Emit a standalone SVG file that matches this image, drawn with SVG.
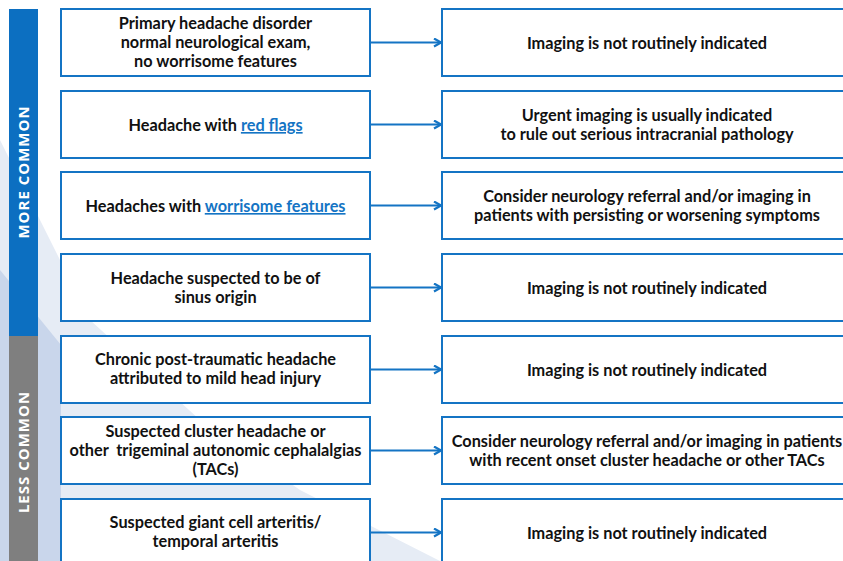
<svg xmlns="http://www.w3.org/2000/svg" width="843" height="561" viewBox="0 0 843 561">
<defs>
<style>
.box{fill:#ffffff;stroke:#1474c4;stroke-width:2}
.t{font-family:Lato,"Liberation Sans",sans-serif;font-weight:bold;font-size:16.3px;fill:#111111;text-anchor:middle}
.lnk{fill:#1474c4;text-decoration:underline}
.side{font-family:"Open Sans","Liberation Sans",sans-serif;font-weight:bold;font-size:15px;fill:#ffffff;text-anchor:middle;letter-spacing:1px}
.conn{stroke:#1474c4;stroke-width:2.2;fill:none}
</style>
<marker id="arr" viewBox="0 0 10 10" refX="9" refY="5" markerWidth="10" markerHeight="10" markerUnits="userSpaceOnUse" orient="auto">
<path d="M2,1 L9,5 L2,9" fill="none" stroke="#1474c4" stroke-width="2.2"/>
</marker>
</defs>
<rect width="843" height="561" fill="#ffffff"/>
<g id="background">
<polygon points="0,140 90,320 200,420 300,490 440,561 0,561" fill="#e6ecf5"/>
<polygon points="0,270 61,345 61,561 0,561" fill="#c9d6eb"/>
</g>
<g id="side-more">
<rect x="9" y="9" width="29" height="327" fill="#0c6fc1"/>
<text class="side" transform="translate(29,172) rotate(-90)">MORE COMMON</text>
</g>
<g id="side-less">
<rect x="9" y="336" width="29" height="225" fill="#7f7f7f"/>
<text class="side" transform="translate(29,452) rotate(-90)">LESS COMMON</text>
</g>
<g id="connectors">
<line class="conn" x1="370" y1="42.5" x2="441" y2="42.5" marker-end="url(#arr)"/>
<line class="conn" x1="370" y1="124.5" x2="441" y2="124.5" marker-end="url(#arr)"/>
<line class="conn" x1="370" y1="205.5" x2="441" y2="205.5" marker-end="url(#arr)"/>
<line class="conn" x1="370" y1="287.5" x2="441" y2="287.5" marker-end="url(#arr)"/>
<line class="conn" x1="370" y1="369.5" x2="441" y2="369.5" marker-end="url(#arr)"/>
<line class="conn" x1="370" y1="450.5" x2="441" y2="450.5" marker-end="url(#arr)"/>
<line class="conn" x1="370" y1="532.5" x2="441" y2="532.5" marker-end="url(#arr)"/>
</g>
<g id="l1"><rect class="box" x="61" y="9" width="309" height="67"/>
<text class="t" x="215.5" y="29">Primary headache disorder</text>
<text class="t" x="215.5" y="48">normal neurological exam,</text>
<text class="t" x="215.5" y="67">no worrisome features</text></g>
<g id="r1"><rect class="box" x="442" y="9" width="410" height="67"/>
<text class="t" x="647" y="48.5">Imaging is not routinely indicated</text></g>
<g id="l2"><rect class="box" x="61" y="91" width="309" height="67"/>
<text class="t" x="215.5" y="131">Headache with <tspan class="lnk">red flags</tspan></text></g>
<g id="r2"><rect class="box" x="442" y="91" width="410" height="67"/>
<text class="t" x="647" y="121">Urgent imaging is usually indicated</text>
<text class="t" x="647" y="140">to rule out serious intracranial pathology</text></g>
<g id="l3"><rect class="box" x="61" y="172" width="309" height="67"/>
<text class="t" x="215.5" y="212">Headaches with <tspan class="lnk">worrisome features</tspan></text></g>
<g id="r3"><rect class="box" x="442" y="172" width="410" height="67"/>
<text class="t" x="647" y="202">Consider neurology referral and/or imaging in</text>
<text class="t" x="647" y="221">patients with persisting or worsening symptoms</text></g>
<g id="l4"><rect class="box" x="61" y="254" width="309" height="67"/>
<text class="t" x="215.5" y="284">Headache suspected to be of</text>
<text class="t" x="215.5" y="303">sinus origin</text></g>
<g id="r4"><rect class="box" x="442" y="254" width="410" height="67"/>
<text class="t" x="647" y="293.5">Imaging is not routinely indicated</text></g>
<g id="l5"><rect class="box" x="61" y="336" width="309" height="67"/>
<text class="t" x="215.5" y="365">Chronic post-traumatic headache</text>
<text class="t" x="215.5" y="384">attributed to mild head injury</text></g>
<g id="r5"><rect class="box" x="442" y="336" width="410" height="67"/>
<text class="t" x="647" y="375.5">Imaging is not routinely indicated</text></g>
<g id="l6"><rect class="box" x="61" y="417" width="309" height="67"/>
<text class="t" x="215.5" y="437">Suspected cluster headache or</text>
<text class="t" x="215.5" y="456" xml:space="preserve">other  trigeminal autonomic cephalalgias</text>
<text class="t" x="215.5" y="475">(TACs)</text></g>
<g id="r6"><rect class="box" x="442" y="417" width="410" height="67"/>
<text class="t" x="647" y="447">Consider neurology referral and/or imaging in patients</text>
<text class="t" x="647" y="466">with recent onset cluster headache or other TACs</text></g>
<g id="l7"><rect class="box" x="61" y="499" width="309" height="70"/>
<text class="t" x="215.5" y="528">Suspected giant cell arteritis/</text>
<text class="t" x="215.5" y="547">temporal arteritis</text></g>
<g id="r7"><rect class="box" x="442" y="499" width="410" height="70"/>
<text class="t" x="647" y="538.5">Imaging is not routinely indicated</text></g>
</svg>
